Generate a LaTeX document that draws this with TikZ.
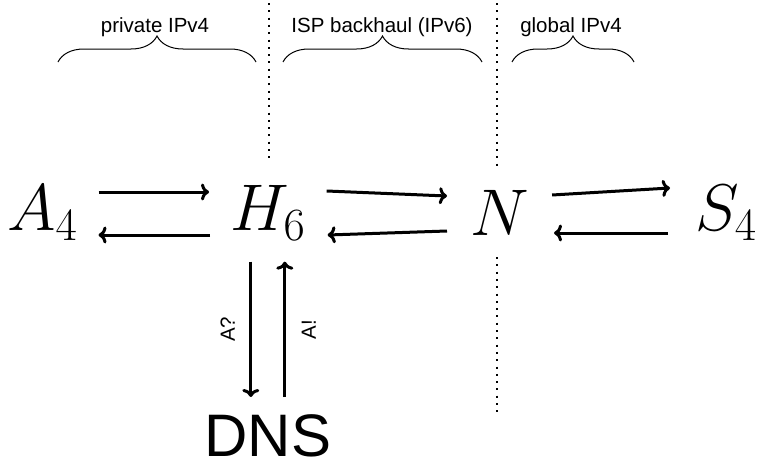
\RequirePackage{fix-cm}
\documentclass[tikz,border=0pt]{standalone}
\usepackage{fontspec}
\setsansfont{Liberation Sans}
\usepackage{tikz}
\usetikzlibrary{arrows.meta,decorations.pathreplacing}

\begin{document}
\begin{tikzpicture}[x=1pt,y=-1pt,
    host/.style={inner sep=0pt,font=\fontsize{66}{66}\selectfont},
    arr/.style={-{To[length=8pt,width=17pt]},line width=3pt},
    sep/.style={line width=2pt,dash pattern=on 2pt off 5.3pt},
    zone/.style={decorate,decoration={brace,amplitude=26pt},line width=1pt},
    lbl/.style={font=\sffamily\fontsize{20.5}{20.5}\selectfont,inner sep=0pt}]
    \useasboundingbox (0,0) rectangle (758,463);
    % hosts
    \node[host,anchor=west] (a) at (7,213) {$A_4$};
    \node[host,anchor=west] (h) at (230,213) {$H_6$};
    \node[host,anchor=west] (n) at (470,213) {$N$};
    \node[host,anchor=west] (s) at (695,213) {$S_4$};
    \node[inner sep=0pt,anchor=north,font=\sffamily\fontsize{60}{60}\selectfont] (dns) at (h.south |- 0,414) {DNS};
    % address zones
    \draw[sep] (269,3) -- (269,163);
    \draw[sep] (497,3) -- (497,169);
    \draw[sep] (497,257) -- (497,413);
    \draw[zone] (58,62) -- (256,62);
    \draw[zone] (283,62) -- (482,62);
    \draw[zone] (512,62) -- (634,62);
    \node[lbl,anchor=base] (priv) at (155,32) {private IPv4};
    \node[lbl,anchor=base] (isp) at (382,32) {ISP backhaul (IPv6)};
    \node[lbl,anchor=base] (glob) at (571,32) {global IPv4};
    % traffic
    \draw[arr] ([xshift=21pt,yshift=21pt]a.east) -- ([xshift=-21pt,yshift=21pt]h.west);
    \draw[arr] ([xshift=-20pt,yshift=-22pt]h.west) -- ([xshift=21pt,yshift=-22pt]a.east);
    \draw[arr] ([xshift=21pt,yshift=22pt]h.east) -- ([xshift=-23pt,yshift=17pt]n.west);
    \draw[arr] ([xshift=-23pt,yshift=-18pt]n.west) -- ([xshift=22pt,yshift=-22pt]h.east);
    \draw[arr] ([xshift=23pt,yshift=18pt]n.east) -- ([xshift=-25pt,yshift=25pt]s.west);
    \draw[arr] ([xshift=-27pt,yshift=-20pt]s.west) -- ([xshift=25pt,yshift=-20pt]n.east);
    \draw[arr] ([xshift=-17pt,yshift=-21pt]h.south) -- ([xshift=-17pt,yshift=17pt]dns.north)
      node[midway,lbl,xshift=-23pt,rotate=90] {A?};
    \draw[arr] ([xshift=17pt,yshift=17pt]dns.north) -- ([xshift=17pt,yshift=-21pt]h.south)
      node[midway,lbl,xshift=24pt,rotate=90] {A!};
\end{tikzpicture}
\end{document}
